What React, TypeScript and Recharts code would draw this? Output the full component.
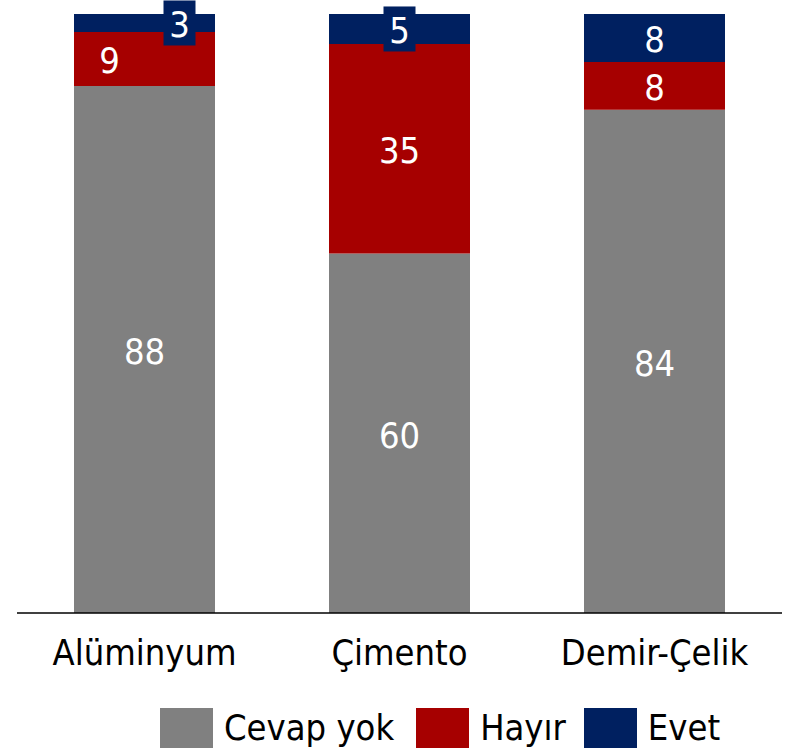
import { BarChart, Bar, XAxis, YAxis, LabelList } from 'recharts';

const categories = ['Alüminyum', 'Çimento', 'Demir-Çelik'];
const cevapYok = [88, 60, 84];
const hayir = [9, 35, 8];
const evet = [3, 5, 8];

const FONT = "'DejaVu Sans Condensed', 'DejaVu Sans', sans-serif";
const GREY = '#808080';
const RED = '#A60000';
const NAVY = '#002060';

// label tweaks for the thin segments
const hayirShift = [-35, 0, 0];
const evetShift = [35, 0, 0];
const evetBoxed = [true, true, false];

const chartData = categories.map((name, i) => ({
  name,
  cevapYok: cevapYok[i],
  hayir: hayir[i],
  evet: evet[i],
}));

const makeLabel = (shift: number[], boxed?: boolean[]) => (props: any) => {
  const { x, y, width, height, value, index } = props;
  const cx = Number(x) + Number(width) / 2 + (shift[index] ?? 0);
  const cy = Number(y) + Number(height) / 2;
  return (
    <g>
      {boxed && boxed[index] && <rect x={cx - 16} y={cy - 22.5} width={32} height={45} fill={NAVY} />}
      <text x={cx} y={cy} dy="0.4em" textAnchor="middle" fill="#fff" fontSize={36} fontFamily={FONT}>
        {value}
      </text>
    </g>
  );
};

const CategoryTick = (props: any) => {
  const { x, y, payload } = props;
  return (
    <text x={x} y={y} dy={52} textAnchor="middle" fill="#000" fontSize={36} fontFamily={FONT}>
      {payload.value}
    </text>
  );
};

const legendItems = [
  { label: 'Cevap yok', color: GREY, gap: 22 },
  { label: 'Hayır', color: RED, gap: 18 },
  { label: 'Evet', color: NAVY, gap: 0 },
];

export default function App() {
  return (
    <div style={{ position: 'relative', width: 794, height: 751, fontFamily: FONT }}>
      <style>{`body{margin:0}`}</style>
      <BarChart width={794} height={751} data={chartData} margin={{ top: 14, right: 12, left: 17, bottom: 0 }}>
        <XAxis
          dataKey="name"
          height={138}
          tickLine={false}
          tickSize={0}
          tickMargin={0}
          axisLine={{ stroke: '#000', strokeWidth: 1.5 }}
          tick={<CategoryTick />}
          interval={0}
        />
        <YAxis hide domain={[0, 100]} />
        <Bar dataKey="cevapYok" stackId="a" fill={GREY} barSize={141} isAnimationActive={false}>
          <LabelList dataKey="cevapYok" content={makeLabel([0, 0, 0])} />
        </Bar>
        <Bar dataKey="hayir" stackId="a" fill={RED} barSize={141} isAnimationActive={false}>
          <LabelList dataKey="hayir" content={makeLabel(hayirShift)} />
        </Bar>
        <Bar dataKey="evet" stackId="a" fill={NAVY} barSize={141} isAnimationActive={false}>
          <LabelList dataKey="evet" content={makeLabel(evetShift, evetBoxed)} />
        </Bar>
      </BarChart>
      <div style={{ position: 'absolute', left: 160, top: 708, display: 'flex', alignItems: 'center' }}>
        {legendItems.map((it) => (
          <div key={it.label} style={{ display: 'flex', alignItems: 'center', marginRight: it.gap }}>
            <div style={{ width: 53, height: 40, background: it.color }} />
            <span style={{ marginLeft: 11, fontSize: 36, lineHeight: '40px', color: '#000' }}>{it.label}</span>
          </div>
        ))}
      </div>
    </div>
  );
}
